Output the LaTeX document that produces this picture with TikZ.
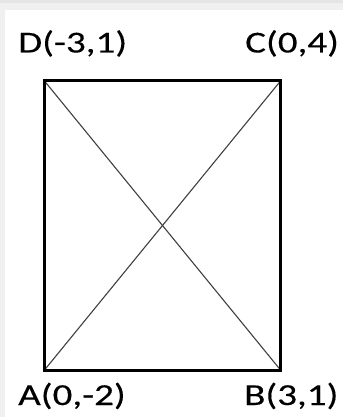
\documentclass[tikz,border=0pt]{standalone}
\usepackage{fontspec}
\setmainfont{Carlito}[FakeBold=0.2]
\begin{document}
\begin{tikzpicture}[x=1pt,y=-1pt,
  lbl/.style={anchor=base west,inner sep=0pt,font=\fontsize{30.5}{32}\selectfont},
  side/.style={line width=3pt,line join=miter},
  diag/.style={line width=1.1pt,black!75}]
\useasboundingbox (0,0) rectangle (343,417);
\fill[black!6] (0,0) rectangle (343,417);
\fill[black!10] (0,0) rectangle (343,3);
\fill[white] (5,10) rectangle (343,417);
\coordinate (A) at (44.5,370);
\coordinate (B) at (280.5,370);
\coordinate (C) at (280.5,81);
\coordinate (D) at (44.5,81);
\draw[diag] (A) -- (C);
\draw[diag] (D) -- (B);
\draw[side] (A) -- (B) -- (C) -- (D) -- cycle;
\node[lbl] (lD) at (18,52.5) {\scalebox{1.28}[1]{D(-3,1)}};
\node[lbl] (lC) at (245,52.5) {\scalebox{1.28}[1]{C(0,4)}};
\node[lbl] (lA) at (18,405) {\scalebox{1.28}[1]{A(0,-2)}};
\node[lbl] (lB) at (244,405) {\scalebox{1.28}[1]{B(3,1)}};
\end{tikzpicture}
\end{document}
